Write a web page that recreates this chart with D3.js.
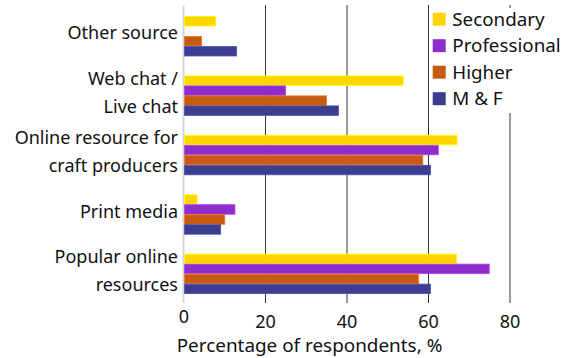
<!DOCTYPE html>
<html>
<head>
<meta charset="utf-8">
<script src="https://cdn.jsdelivr.net/npm/d3@7"></script>
<style>
  html, body { margin: 0; padding: 0; background: #fff; }
  svg { display: block; }
  text { font-family: "Noto Sans", sans-serif; fill: #111; }
</style>
</head>
<body>
<svg id="chart" width="574" height="358"></svg>
<script>
// Sources of information, share of respondents by education level (%)
const categories = [
  "Other source",
  "Web chat / Live chat",
  "Online resource for craft producers",
  "Print media",
  "Popular online resources"
];
const categoryLines = [
  ["Other source"],
  ["Web chat /", "Live chat"],
  ["Online resource for", "craft producers"],
  ["Print media"],
  ["Popular online", "resources"]
];
const seriesNames = ["Secondary", "Professional", "Higher", "M & F"];
const secondary    = [7.8, 53.8, 67.0, 3.2, 66.9];
const professional = [0, 24.9, 62.4, 12.5, 74.9];
const higher       = [4.3, 35.0, 58.6, 10.0, 57.6];
const mf           = [12.9, 37.9, 60.5, 9.0, 60.5];
const seriesColors = ["#FFD500", "#8C2ECB", "#C55A11", "#3B3E8F"];
const xTicks = [0, 20, 40, 60, 80];
const xTitle = "Percentage of respondents, %";

const seriesValues = [secondary, professional, higher, mf];

const svg = d3.select("#chart");

const x = d3.scaleLinear().domain([0, 80]).range([184, 510]);
const y = d3.scaleBand().domain(categories).range([6.3, 303.3])
  .paddingInner(0.327).paddingOuter(0.163);
const ySub = d3.scaleBand().domain(seriesNames).range([0, y.bandwidth()]);

// vertical grid lines that run down into tick marks
svg.append("g").selectAll("line")
  .data(xTicks.filter(d => d > 0))
  .join("line")
  .attr("x1", d => x(d)).attr("x2", d => x(d))
  .attr("y1", 5).attr("y2", 303)
  .attr("stroke", "#333").attr("stroke-width", 1);

// zero baseline
svg.append("line")
  .attr("x1", x(0) - 0.5).attr("x2", x(0) - 0.5)
  .attr("y1", 6).attr("y2", 303)
  .attr("stroke", "#d6d6d6").attr("stroke-width", 2);

// bars
const rows = [];
categories.forEach((c, i) => {
  seriesNames.forEach((s, j) => {
    rows.push({ cat: c, series: s, value: seriesValues[j][i], color: seriesColors[j] });
  });
});

svg.append("g").selectAll("rect")
  .data(rows.filter(d => d.value > 0))
  .join("rect")
  .attr("x", x(0) + 0.5)
  .attr("y", d => y(d.cat) + ySub(d.series) + 0.5)
  .attr("width", d => x(d.value) - x(0) - 0.5)
  .attr("height", ySub.bandwidth() - 0.5)
  .attr("fill", d => d.color)
  .attr("stroke", d => d3.color(d.color).brighter(0.7))
  .attr("stroke-width", 0.8);

// category labels
const catG = svg.append("g");
categories.forEach((c, i) => {
  const lines = categoryLines[i];
  const cy = y(c) + y.bandwidth() / 2 - 3;
  const lh = 28;
  lines.forEach((t, k) => {
    catG.append("text")
      .attr("x", 178)
      .attr("y", cy + (k - (lines.length - 1) / 2) * lh)
      .attr("dy", "0.35em")
      .attr("text-anchor", "end")
      .attr("font-size", 18)
      .text(t);
  });
});

// x tick labels
svg.append("g").selectAll("text")
  .data(xTicks)
  .join("text")
  .attr("x", d => x(d))
  .attr("y", d => d === 0 ? 323 : 327.5)
  .attr("text-anchor", "middle")
  .attr("font-size", 18)
  .text(d => d);

// x axis title
svg.append("text")
  .attr("x", 309.5).attr("y", 351.5)
  .attr("text-anchor", "middle")
  .attr("font-size", 18.9)
  .text(xTitle);

// legend
const lg = svg.append("g");
lg.append("rect")
  .attr("x", 430).attr("y", 8).attr("width", 138).attr("height", 105)
  .attr("fill", "#fff");
seriesNames.forEach((s, j) => {
  const top = 12.7 + j * 26.5;
  lg.append("rect")
    .attr("x", 432.7).attr("y", top).attr("width", 13).attr("height", 13)
    .attr("fill", seriesColors[j]);
  lg.append("text")
    .attr("x", 452.3).attr("y", top + 6.5)
    .attr("dy", "0.35em")
    .attr("font-size", 18.8)
    .text(s);
});
</script>
</body>
</html>
